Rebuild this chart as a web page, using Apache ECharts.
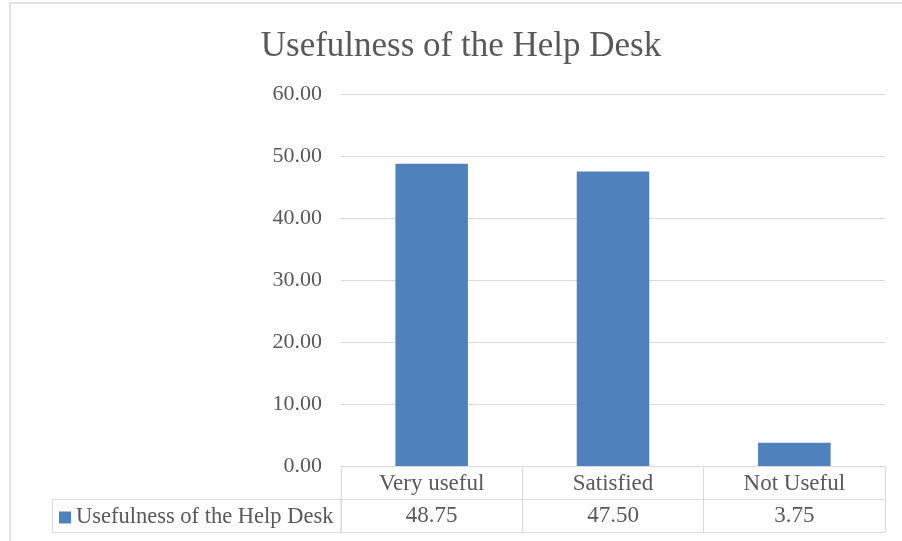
<!DOCTYPE html>
<html>
<head>
<meta charset="utf-8">
<script src="https://cdn.jsdelivr.net/npm/echarts@6/dist/echarts.min.js"></script>
<style>html,body{margin:0;padding:0;background:#fff}#c{width:902px;height:541px}</style>
</head>
<body>
<div id="c"></div>
<script>
var titleText = 'Usefulness of the Help Desk';
var seriesName = 'Usefulness of the Help Desk';
var categories = ['Very useful', 'Satisfied', 'Not Useful'];
var values = [48.75, 47.50, 3.75];
var yTicks = [0, 10, 20, 30, 40, 50, 60];

var FONT = '"Liberation Serif", "Times New Roman", serif';
var TXT = '#595959';
var LINE = '#d9d9d9';
var BAR = '#4f81bd';

var GRID_LEFT = 341, GRID_RIGHT = 17, GRID_TOP = 94, GRID_BOTTOM = 75;
var ROW_H = 33;

var chart = echarts.init(document.getElementById('c'), null, {renderer: 'canvas'});
var H = 541;
var axisY = H - GRID_BOTTOM;

chart.setOption({
  animation: false,
  backgroundColor: '#fff',
  title: {
    text: titleText,
    left: 456, top: 24, textAlign: 'center',
    textStyle: {fontFamily: FONT, fontSize: 35, fontWeight: 'normal', color: TXT}
  },
  legend: {
    left: 59, top: axisY + ROW_H + 7, padding: 0,
    itemWidth: 12, itemHeight: 12,
    icon: 'rect',
    data: [seriesName],
    textStyle: {fontFamily: FONT, fontSize: 22.5, color: TXT}
  },
  grid: {left: GRID_LEFT, right: GRID_RIGHT, top: GRID_TOP, bottom: GRID_BOTTOM, containLabel: false},
  xAxis: [
    {
      type: 'category', data: categories, position: 'bottom',
      axisLine: {show: true, lineStyle: {color: LINE, width: 1}},
      axisTick: {show: true, length: ROW_H * 2, interval: 0, lineStyle: {color: LINE, width: 1}},
      axisLabel: {interval: 0, margin: 6, fontFamily: FONT, fontSize: 23, color: TXT},
      splitLine: {show: false}
    },
    {
      type: 'category', data: categories, position: 'bottom', offset: ROW_H,
      axisLine: {show: true, lineStyle: {color: LINE, width: 1}},
      axisTick: {show: false},
      axisLabel: {interval: 0, margin: 5, fontFamily: FONT, fontSize: 23, color: TXT,
        formatter: function (v, i) { return values[i].toFixed(2); }},
      splitLine: {show: false}
    },
    {
      type: 'category', data: categories, position: 'bottom', offset: ROW_H * 2,
      axisLine: {show: true, lineStyle: {color: LINE, width: 1}},
      axisTick: {show: false},
      axisLabel: {show: false},
      splitLine: {show: false}
    }
  ],
  yAxis: {
    type: 'value', min: yTicks[0], max: yTicks[yTicks.length - 1], interval: yTicks[1] - yTicks[0],
    axisLine: {show: false}, axisTick: {show: false},
    axisLabel: {margin: 19, fontFamily: FONT, fontSize: 22, color: TXT,
      formatter: function (v) { return v.toFixed(2); }},
    splitLine: {show: true, lineStyle: {color: LINE, width: 1}}
  },
  graphic: [
    {type: 'rect', silent: true, z: 0,
      shape: {x: 10, y: 3, width: 1000, height: 1000},
      style: {fill: 'none', stroke: LINE, lineWidth: 1.5}},
    {type: 'rect', silent: true, z: 5,
      shape: {x: 52.5, y: axisY + ROW_H + 0.5, width: GRID_LEFT - 52.5, height: ROW_H},
      style: {fill: 'none', stroke: LINE, lineWidth: 1}}
  ],
  series: [{
    name: seriesName, type: 'bar', xAxisIndex: 0, data: values,
    barWidth: '40%', itemStyle: {color: BAR}
  }]
});
</script>
</body>
</html>
